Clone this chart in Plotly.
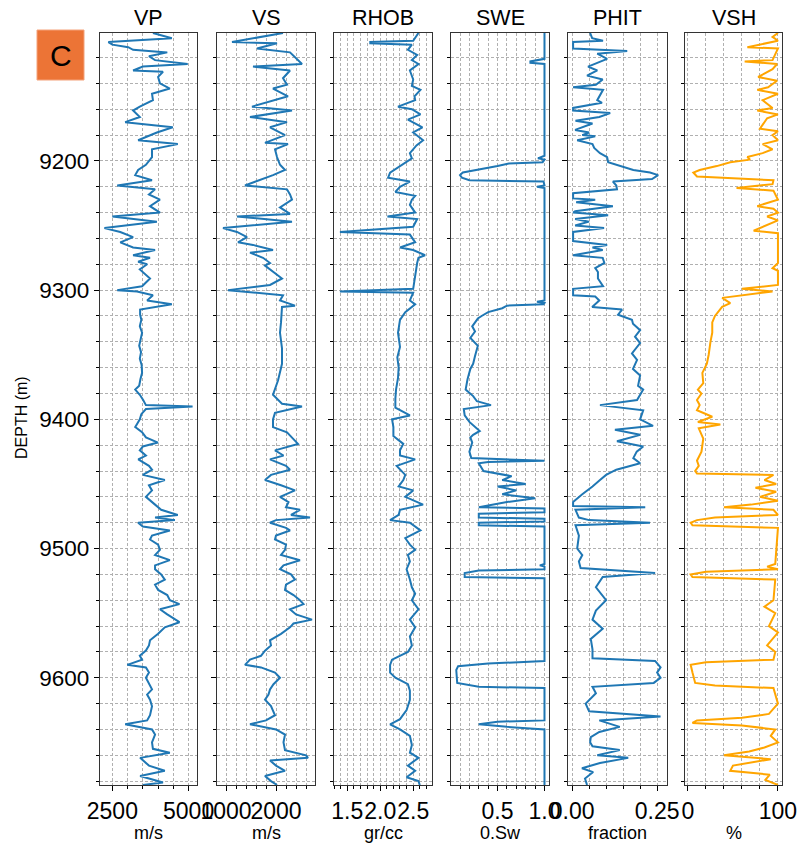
import plotly.graph_objects as go

# ---------------- well-log curves: depth (m) and value ----------------
depth_vp = [9101, 9105, 9108, 9110, 9112, 9114, 9116, 9119, 9122, 9125, 9127, 9130, 9131, 9135,
            9140, 9144, 9148, 9153, 9158, 9161, 9166, 9170, 9174, 9178, 9184, 9187, 9191, 9197,
            9203, 9207, 9211, 9215, 9219, 9222, 9226, 9230, 9235, 9240, 9243, 9247, 9252, 9255,
            9259, 9263, 9267, 9269, 9273, 9275, 9278, 9280, 9284, 9291, 9297, 9300, 9301, 9304,
            9308, 9311, 9315, 9319, 9323, 9328, 9333, 9338, 9343, 9348, 9353, 9358, 9364, 9369,
            9374, 9377, 9381, 9385, 9389, 9390, 9392, 9396, 9400, 9404, 9406, 9410, 9414, 9418,
            9421, 9424, 9428, 9431, 9436, 9439, 9443, 9447, 9451, 9455, 9460, 9466, 9470, 9474,
            9476, 9478, 9480, 9483, 9486, 9490, 9493, 9497, 9501, 9505, 9509, 9513, 9516, 9520,
            9524, 9528, 9532, 9536, 9540, 9543, 9547, 9551, 9555, 9557, 9561, 9566, 9571, 9575,
            9579, 9583, 9586, 9590, 9592, 9596, 9600, 9605, 9609, 9613, 9617, 9622, 9629, 9633,
            9636, 9640, 9644, 9650, 9655, 9658, 9662, 9668, 9672, 9676, 9681, 9683]
vp = [3830, 4450, 2370, 2500, 3020, 3180, 4300, 3700, 3900, 4970, 3500, 3180, 4160, 4000,
      4060, 4385, 3800, 3830, 3400, 3180, 3400, 2920, 4480, 3960, 3345, 4645, 3800, 3800,
      3600, 3345, 3250, 3800, 2660, 3900, 3700, 4060, 3735, 4060, 2500, 3960, 2240, 2760,
      3180, 2760, 3180, 3900, 3180, 3735, 3345, 3640, 3400, 3735, 3475, 2660, 3310, 3830,
      3640, 4450, 3410, 3410, 3450, 3400, 3475, 3420, 3380, 3440, 3400, 3460, 3475, 3420,
      3380, 3250, 3400, 3510, 3600, 5130, 3600, 3450, 3400, 3300, 3250, 3475, 3600, 3995,
      3500, 3400, 3600, 3350, 3700, 3800, 3500, 4220, 3700, 3800, 3600, 3900, 4100, 4645,
      3900, 4550, 3345, 3500, 4385, 3800, 3735, 4000, 4060, 3900, 4385, 3900, 3900, 4100,
      4220, 3900, 4000, 4300, 4385, 4700, 4060, 4300, 4550, 4700, 4220, 4000, 3735, 3700,
      3600, 3400, 3475, 2990, 3600, 3700, 3600, 3700, 3800, 3640, 3735, 3800, 3735, 3640,
      2920, 3800, 3900, 3800, 3830, 4385, 3410, 3700, 4220, 3410, 4160, 3500]

depth_vs = [9101, 9108, 9109, 9113, 9116, 9125, 9127, 9130, 9136, 9141, 9144, 9150, 9158, 9161,
            9166, 9170, 9174, 9180, 9186, 9187, 9191, 9197, 9203, 9207, 9211, 9219, 9222, 9226,
            9230, 9236, 9241, 9243, 9247, 9252, 9255, 9259, 9263, 9265, 9269, 9271, 9275, 9279,
            9281, 9291, 9296, 9300, 9304, 9308, 9312, 9313, 9325, 9333, 9345, 9357, 9370, 9381,
            9388, 9390, 9395, 9400, 9406, 9410, 9419, 9424, 9428, 9431, 9436, 9439, 9443, 9447,
            9451, 9455, 9460, 9464, 9468, 9470, 9474, 9476, 9478, 9480, 9484, 9486, 9490, 9493,
            9497, 9501, 9505, 9509, 9513, 9516, 9520, 9524, 9528, 9532, 9536, 9540, 9543, 9547,
            9551, 9555, 9558, 9561, 9566, 9571, 9575, 9579, 9583, 9586, 9590, 9592, 9596, 9600,
            9605, 9609, 9613, 9617, 9622, 9629, 9633, 9636, 9640, 9644, 9650, 9656, 9660, 9662,
            9664, 9668, 9672, 9676, 9680, 9683]
vs = [2140, 1120, 2020, 1620, 2280, 2520, 1540, 2280, 2140, 2220, 1940, 2240, 1520, 2320,
      1480, 2220, 1880, 2180, 1780, 2240, 1980, 2020, 2080, 2180, 1940, 1380, 2220, 2280,
      2320, 2080, 2280, 1220, 2320, 940, 1220, 1420, 1240, 1540, 1940, 1480, 1740, 1880,
      1780, 2120, 1880, 1040, 2140, 2080, 2380, 2120, 2100, 2080, 2120, 2120, 2040, 1940,
      2120, 2520, 1980, 1940, 1940, 2220, 2440, 1980, 2150, 1880, 2200, 2280, 1900, 1780,
      2100, 2380, 2080, 2250, 2200, 2480, 2300, 2680, 2000, 1880, 2200, 2280, 2000, 1980,
      2200, 2180, 2100, 2480, 2150, 2080, 2300, 2380, 2200, 2180, 2350, 2480, 2550, 2280,
      2400, 2720, 2350, 2280, 2100, 1880, 1900, 1780, 1700, 1480, 1380, 1700, 1980, 2080,
      1950, 1880, 1850, 1780, 1900, 1980, 1800, 1480, 2000, 2180, 2150, 2180, 2600, 2640,
      1880, 2000, 2180, 1780, 1900, 2020]

depth_rhob = [9101, 9105, 9107, 9108, 9109, 9110, 9114, 9118, 9122, 9125, 9130, 9137, 9142, 9145,
              9150, 9153, 9158, 9160, 9164, 9168, 9174, 9178, 9184, 9188, 9194, 9198, 9203, 9206,
              9209, 9213, 9216, 9220, 9224, 9227, 9230, 9234, 9240, 9243, 9245, 9251, 9255, 9257,
              9263, 9267, 9269, 9273, 9275, 9279, 9290, 9299, 9301, 9302, 9308, 9311, 9317, 9323,
              9333, 9344, 9352, 9360, 9368, 9377, 9384, 9391, 9397, 9400, 9406, 9413, 9419, 9424,
              9428, 9431, 9436, 9439, 9443, 9447, 9452, 9455, 9460, 9466, 9470, 9474, 9478, 9480,
              9486, 9492, 9497, 9501, 9505, 9510, 9516, 9524, 9530, 9535, 9540, 9547, 9555, 9561,
              9568, 9575, 9580, 9586, 9590, 9596, 9600, 9605, 9610, 9617, 9625, 9632, 9636, 9640,
              9645, 9652, 9658, 9662, 9668, 9672, 9677, 9680, 9683]
rhob = [2.58, 2.53, 2.50, 1.85, 1.85, 2.48, 2.42, 2.56, 2.48, 2.58, 2.45, 2.50, 2.48, 2.61,
        2.52, 2.53, 2.27, 2.48, 2.61, 2.42, 2.64, 2.50, 2.65, 2.55, 2.45, 2.48, 2.33, 2.26,
        2.15, 2.12, 2.45, 2.30, 2.23, 2.53, 2.48, 2.45, 2.53, 2.11, 2.56, 2.50, 1.39, 2.45,
        2.53, 2.30, 2.50, 2.68, 2.58, 2.56, 2.53, 2.50, 1.39, 2.50, 2.45, 2.53, 2.38, 2.30,
        2.27, 2.30, 2.26, 2.28, 2.27, 2.24, 2.23, 2.23, 2.45, 2.18, 2.20, 2.20, 2.35, 2.30,
        2.30, 2.53, 2.25, 2.30, 2.38, 2.35, 2.28, 2.50, 2.38, 2.65, 2.30, 2.28, 2.15, 2.45,
        2.61, 2.38, 2.45, 2.53, 2.42, 2.45, 2.40, 2.45, 2.48, 2.53, 2.48, 2.58, 2.45, 2.53,
        2.45, 2.48, 2.42, 2.18, 2.15, 2.15, 2.23, 2.42, 2.45, 2.45, 2.40, 2.30, 2.15, 2.30,
        2.45, 2.48, 2.45, 2.58, 2.42, 2.53, 2.40, 2.58, 2.60]

depth_swe = [9101, 9121, 9123, 9124, 9125, 9196, 9198, 9199, 9201, 9202, 9204, 9207, 9209, 9211,
             9213, 9215, 9216, 9219, 9220, 9221, 9308, 9309, 9310, 9311, 9312, 9314, 9317, 9320,
             9322, 9328, 9332, 9337, 9343, 9351, 9357, 9361, 9369, 9377, 9382, 9386, 9389, 9392,
             9397, 9402, 9409, 9412, 9414, 9418, 9421, 9425, 9430, 9432, 9433, 9434, 9440, 9444,
             9447, 9450, 9452, 9455, 9458, 9461, 9464, 9468, 9469, 9472, 9473, 9476, 9477, 9479,
             9480, 9482, 9483, 9512, 9513, 9514, 9516, 9517, 9519, 9522, 9523, 9587, 9589, 9591,
             9594, 9604, 9607, 9608, 9633, 9634, 9636, 9638, 9640, 9683]
swe = [1.0, 1.0, 0.85, 0.85, 1.0, 1.0, 0.93, 1.0, 0.98, 0.62, 0.50, 0.27, 0.13, 0.10,
       0.12, 0.20, 0.99, 1.0, 0.92, 1.0, 1.0, 0.92, 1.0, 0.99, 0.60, 0.55, 0.40, 0.33,
       0.29, 0.23, 0.26, 0.21, 0.29, 0.26, 0.24, 0.21, 0.18, 0.16, 0.24, 0.28, 0.43, 0.14,
       0.15, 0.20, 0.31, 0.24, 0.21, 0.23, 0.22, 0.20, 0.22, 1.0, 0.40, 0.30, 0.35, 0.65,
       0.55, 0.80, 0.50, 0.70, 0.55, 0.90, 0.60, 0.30, 1.0, 1.0, 0.30, 0.30, 1.0, 1.0,
       0.30, 0.30, 1.0, 1.0, 0.95, 1.0, 1.0, 0.30, 0.15, 0.15, 1.0, 1.0, 0.40, 0.08,
       0.06, 0.07, 0.30, 1.0, 1.0, 0.50, 0.30, 0.60, 1.0, 1.0]

depth_phit = [9101, 9105, 9107, 9108, 9113, 9115, 9117, 9121, 9127, 9130, 9134, 9137, 9141, 9143,
              9145, 9150, 9153, 9155, 9159, 9161, 9163, 9166, 9169, 9171, 9176, 9178, 9180, 9181,
              9184, 9187, 9190, 9194, 9197, 9201, 9207, 9209, 9211, 9214, 9216, 9219, 9222, 9225,
              9229, 9230, 9232, 9235, 9239, 9240, 9242, 9245, 9247, 9250, 9252, 9255, 9262, 9265,
              9267, 9269, 9273, 9275, 9279, 9283, 9286, 9291, 9297, 9299, 9304, 9305, 9308, 9313,
              9315, 9319, 9323, 9326, 9331, 9336, 9341, 9349, 9354, 9361, 9366, 9374, 9377, 9385,
              9389, 9393, 9400, 9405, 9408, 9412, 9417, 9421, 9425, 9430, 9434, 9439, 9443, 9447,
              9452, 9458, 9464, 9467, 9468, 9470, 9476, 9478, 9480, 9482, 9490, 9500, 9505, 9510,
              9515, 9519, 9522, 9530, 9540, 9548, 9555, 9562, 9570, 9578, 9585, 9587, 9592, 9596,
              9600, 9604, 9607, 9612, 9620, 9626, 9630, 9633, 9638, 9642, 9646, 9650, 9653, 9656,
              9660, 9662, 9666, 9670, 9673, 9678, 9683]
phit = [0.053, 0.059, 0.091, 0.003, 0.003, 0.162, 0.074, 0.103, 0.047, 0.074, 0.044, 0.090, 0.070, 0.003,
        0.091, 0.080, 0.074, 0.088, 0.003, 0.003, 0.112, 0.080, 0.010, 0.060, 0.009, 0.050, 0.030, 0.068,
        0.015, 0.060, 0.065, 0.082, 0.103, 0.106, 0.180, 0.229, 0.253, 0.235, 0.120, 0.130, 0.132, 0.003,
        0.003, 0.068, 0.012, 0.120, 0.009, 0.003, 0.106, 0.009, 0.050, 0.009, 0.094, 0.003, 0.003, 0.103,
        0.060, 0.090, 0.003, 0.090, 0.095, 0.068, 0.076, 0.076, 0.091, 0.003, 0.003, 0.068, 0.080, 0.059,
        0.147, 0.135, 0.176, 0.179, 0.200, 0.185, 0.200, 0.176, 0.191, 0.179, 0.200, 0.194, 0.209, 0.191,
        0.082, 0.209, 0.200, 0.238, 0.126, 0.200, 0.132, 0.209, 0.190, 0.180, 0.200, 0.130, 0.100, 0.082,
        0.060, 0.030, 0.003, 0.003, 0.215, 0.010, 0.020, 0.050, 0.229, 0.010, 0.020, 0.015, 0.030, 0.020,
        0.025, 0.244, 0.090, 0.070, 0.100, 0.070, 0.060, 0.090, 0.055, 0.060, 0.060, 0.244, 0.260, 0.250,
        0.260, 0.240, 0.060, 0.070, 0.040, 0.050, 0.260, 0.080, 0.140, 0.080, 0.055, 0.053, 0.060, 0.140,
        0.074, 0.165, 0.082, 0.029, 0.062, 0.038, 0.044]

depth_vsh = [9101, 9104, 9107, 9112, 9113, 9122, 9123, 9125, 9129, 9135, 9138, 9143, 9145, 9148,
             9153, 9159, 9161, 9164, 9167, 9175, 9177, 9180, 9184, 9187, 9191, 9194, 9197, 9199,
             9201, 9204, 9207, 9209, 9212, 9215, 9218, 9221, 9223, 9230, 9235, 9237, 9240, 9243,
             9246, 9254, 9256, 9279, 9283, 9285, 9296, 9299, 9301, 9306, 9310, 9313, 9320, 9325,
             9333, 9340, 9350, 9357, 9364, 9372, 9377, 9380, 9385, 9389, 9393, 9398, 9402, 9404,
             9407, 9415, 9425, 9432, 9436, 9440, 9442, 9443, 9447, 9450, 9453, 9456, 9460, 9463,
             9466, 9468, 9470, 9474, 9476, 9478, 9480, 9482, 9484, 9512, 9514, 9516, 9518, 9520,
             9522, 9524, 9540, 9545, 9550, 9560, 9565, 9575, 9580, 9586, 9588, 9590, 9596, 9604,
             9606, 9608, 9620, 9628, 9631, 9633, 9635, 9637, 9640, 9645, 9650, 9654, 9657, 9660,
             9663, 9668, 9672, 9675, 9679, 9683]
vsh = [100, 94, 100, 66, 100, 94, 63, 99, 94, 78, 99, 89, 77, 100,
       83, 94, 77, 100, 88, 80, 100, 94, 100, 83, 94, 83, 66, 69,
       47, 32, 13, 6, 10, 95, 94, 54, 95, 100, 77, 95, 100, 88,
       100, 73, 100, 100, 94, 100, 100, 60, 94, 38, 47, 38, 30, 27,
       27, 25, 23, 21, 16, 17, 11, 15, 10, 13, 10, 27, 11, 36,
       12, 17, 15, 10, 12, 8, 10, 95, 85, 98, 75, 98, 80, 100,
       70, 40, 95, 100, 30, 10, 3, 5, 100, 97, 88, 100, 20, 3,
       5, 97, 95, 85, 97, 90, 100, 88, 97, 95, 20, 3, 5, 8,
       30, 95, 100, 90, 60, 10, 5, 60, 97, 92, 100, 85, 68, 40,
       92, 50, 47, 91, 86, 100]

BLUE = "#1f77b4"
ORANGE = "#ffa500"
GRID = "#b0b0b0"
DASH = "3px,2px"
FONT = "Liberation Sans, Arial, sans-serif"

tracks = [
    dict(title="VP", unit="m/s", depth=depth_vp, values=vp, color=BLUE,
         xrange=[2095, 5275], dtick=2500, minor=500, fmt=""),
    dict(title="VS", unit="m/s", depth=depth_vs, values=vs, color=BLUE,
         xrange=[820, 2780], dtick=1000, minor=200, fmt=""),
    dict(title="RHOB", unit="gr/cc", depth=depth_rhob, values=rhob, color=BLUE,
         xrange=[1.30, 2.785], dtick=0.5, minor=0.1, fmt=".1f"),
    dict(title="SWE", unit="0.Sw", depth=depth_swe, values=swe, color=BLUE,
         xrange=[0.004, 1.048], dtick=0.5, minor=0.1, fmt=".1f"),
    dict(title="PHIT", unit="fraction", depth=depth_phit, values=phit, color=BLUE,
         xrange=[-0.012, 0.279], dtick=0.25, minor=0.05, fmt=".2f"),
    dict(title="VSH", unit="%", depth=depth_vsh, values=vsh, color=ORANGE,
         xrange=[-3.3, 104.5], dtick=100, minor=20, fmt=""),
]

W, H = 800, 845
x_px = [(100, 197), (217, 315), (334, 432), (451, 549), (568, 667), (685, 782)]
y_top, y_bot = 33, 785
DEPTH_RANGE = [9683, 9101]

fig = go.Figure()
layout = dict(
    width=W, height=H, margin=dict(l=0, r=0, t=0, b=0, autoexpand=False),
    paper_bgcolor="white", plot_bgcolor="white", showlegend=False,
    font=dict(family=FONT, color="black"),
)
annotations = []

for i, tr in enumerate(tracks):
    n = "" if i == 0 else str(i + 1)
    fig.add_trace(go.Scatter(
        x=tr["values"], y=tr["depth"], mode="lines",
        line=dict(color=tr["color"], width=2), xaxis="x" + n, yaxis="y" + n,
    ))
    x0, x1 = x_px[i]
    layout["xaxis" + n] = dict(
        domain=[x0 / W, x1 / W], anchor="y" + n, range=tr["xrange"], automargin=False,
        tick0=0, dtick=tr["dtick"], tickformat=tr["fmt"], tickangle=0,
        ticks="outside", ticklen=5, tickwidth=1, tickcolor="black",
        tickfont=dict(size=23, family=FONT, color="black"),
        showgrid=True, gridcolor=GRID, griddash=DASH, gridwidth=1,
        showline=True, linecolor="#333333", linewidth=1.2, mirror=True,
        zeroline=False,
        minor=dict(dtick=tr["minor"], tick0=0, ticks="outside", ticklen=3,
                   tickcolor="black", showgrid=True, gridcolor=GRID,
                   griddash=DASH, gridwidth=0.8),
    )
    layout["yaxis" + n] = dict(
        domain=[1 - y_bot / H, 1 - y_top / H], anchor="x" + n, range=DEPTH_RANGE,
        automargin=False, tick0=0, dtick=100, showticklabels=(i == 0), tickangle=0,
        ticks="outside", ticklen=5, tickwidth=1, tickcolor="black",
        tickfont=dict(size=22.5, family=FONT, color="black"),
        showgrid=True, gridcolor=GRID, griddash=DASH, gridwidth=1,
        showline=True, linecolor="#333333", linewidth=1.2, mirror=True,
        zeroline=False,
        minor=dict(dtick=20, tick0=0, ticks="outside", ticklen=3,
                   tickcolor="black", showgrid=True, gridcolor=GRID,
                   griddash=DASH, gridwidth=0.8),
    )
    if i > 0:
        layout["yaxis" + n]["matches"] = "y"
    xc = (x0 + x1) / 2 / W
    annotations.append(dict(text=tr["title"], x=xc, y=1 - 18 / H, xref="paper", yref="paper",
                            showarrow=False, font=dict(size=21.5, family=FONT, color="black"),
                            xanchor="center", yanchor="middle"))
    annotations.append(dict(text=tr["unit"], x=xc, y=1 - 833 / H, xref="paper", yref="paper",
                            showarrow=False, font=dict(size=18, family=FONT, color="black"),
                            xanchor="center", yanchor="middle"))

annotations.append(dict(text="DEPTH (m)", x=22 / W, y=1 - 418 / H, xref="paper", yref="paper",
                        showarrow=False, textangle=-90,
                        font=dict(size=16, family=FONT, color="black"),
                        xanchor="center", yanchor="middle"))
annotations.append(dict(text="C", x=61 / W, y=1 - 55 / H, xref="paper", yref="paper",
                        showarrow=False, font=dict(size=30, family=FONT, color="black"),
                        xanchor="center", yanchor="middle"))
layout["annotations"] = annotations
layout["shapes"] = [dict(type="rect", xref="paper", yref="paper",
                         x0=37 / W, x1=84 / W, y0=1 - 80 / H, y1=1 - 30 / H,
                         fillcolor="#ec7436", line=dict(color="#f4a27a", width=1), layer="above")]

fig.update_layout(**layout)
fig.write_html("out.html")
